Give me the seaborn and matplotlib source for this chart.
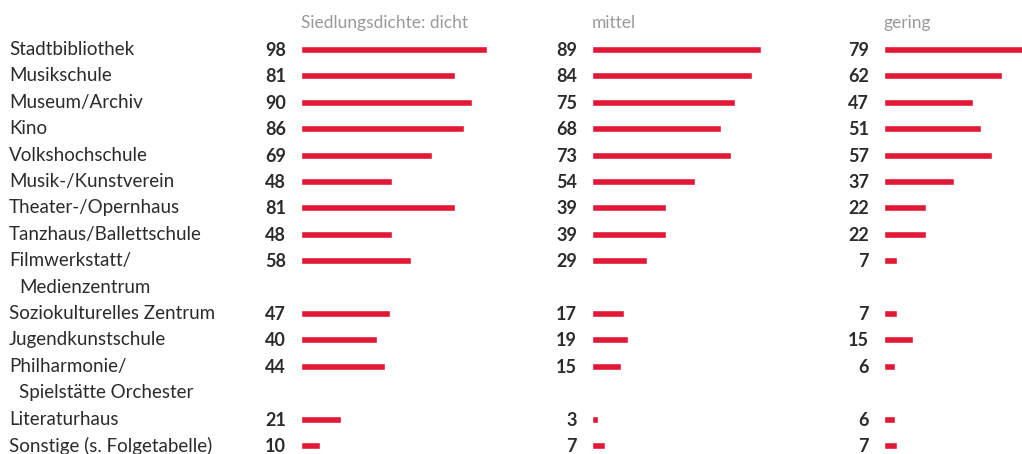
import matplotlib
matplotlib.use('Agg')
import matplotlib.pyplot as plt
import seaborn as sns
import pandas as pd
import numpy as np

# Daten
kategorien = [
    'Stadtbibliothek', 'Musikschule', 'Museum/Archiv', 'Kino', 'Volkshochschule',
    'Musik-/Kunstverein', 'Theater-/Opernhaus', 'Tanzhaus/Ballettschule',
    'Filmwerkstatt/\nMedienzentrum', 'Soziokulturelles Zentrum', 'Jugendkunstschule',
    'Philharmonie/\nSpielstätte Orchester', 'Literaturhaus', 'Sonstige (s. Folgetabelle)',
]
dicht = [98, 81, 90, 86, 69, 48, 81, 48, 58, 47, 40, 44, 21, 10]
mittel = [89, 84, 75, 68, 73, 54, 39, 39, 29, 17, 19, 15, 3, 7]
gering = [79, 62, 47, 51, 57, 37, 22, 22, 7, 7, 15, 6, 6, 7]
panels = ['Siedlungsdichte: dicht', 'mittel', 'gering']

sns.set_theme(style='white')
plt.rcParams['font.family'] = ['Lato', 'DejaVu Sans']

ROT = '#E31837'
TEXT = '#2b2b2b'
GRAU = '#9a9a9a'
FS = 13.5

# Zeilenpositionen (mehrzeilige Labels belegen mehrere Zeilen)
pos = []
zeile = 0
for k in kategorien:
    pos.append(zeile)
    zeile += len(k.split('\n'))

df = pd.DataFrame({'kategorie': kategorien, 'pos': pos,
                   'dicht': dicht, 'mittel': mittel, 'gering': gering})

W, H = 1022, 454
fig = plt.figure(figsize=(W / 100, H / 100), dpi=100)

slot = 26.4
top_px = 49.5 - slot / 2
ax_h = (H - top_px) / H
n_slots = (H - top_px) / slot
links_px = [301, 592, 884]
breite_px = 190  # 100 Einheiten

achsen = []
for i, (spalte, titel) in enumerate(zip(['dicht', 'mittel', 'gering'], panels)):
    ax = fig.add_axes([links_px[i] / W, 0, breite_px / W, ax_h])
    sns.barplot(data=df, x=spalte, y='pos', orient='h', native_scale=True,
                color=ROT, width=0.27, saturation=1, ax=ax)
    ax.set_xlim(0, 100)
    ax.set_ylim(n_slots - 0.5, -0.5)
    ax.axis('off')
    for _, r in df.iterrows():
        ax.annotate(f"{r[spalte]}", xy=(0, r['pos']), xytext=(-15, -1),
                    textcoords='offset pixels', ha='right', va='center',
                    fontsize=13, fontweight='bold', color=TEXT, annotation_clip=False)
    ax.text(0, -1, titel, ha='left', va='center', fontsize=12.5,
            color=GRAU, clip_on=False)
    achsen.append(ax)

# Kategorienbeschriftung links
ax0 = achsen[0]
trans = matplotlib.transforms.blended_transform_factory(fig.transFigure, ax0.transData)
for k, p in zip(kategorien, pos):
    for j, teil in enumerate(k.split('\n')):
        x = 9 / W if j == 0 else 19 / W
        ax0.text(x, p + j, teil, transform=trans, ha='left', va='center',
                 fontsize=FS, color=TEXT, clip_on=False)

fig.savefig('out.png', dpi=100)
